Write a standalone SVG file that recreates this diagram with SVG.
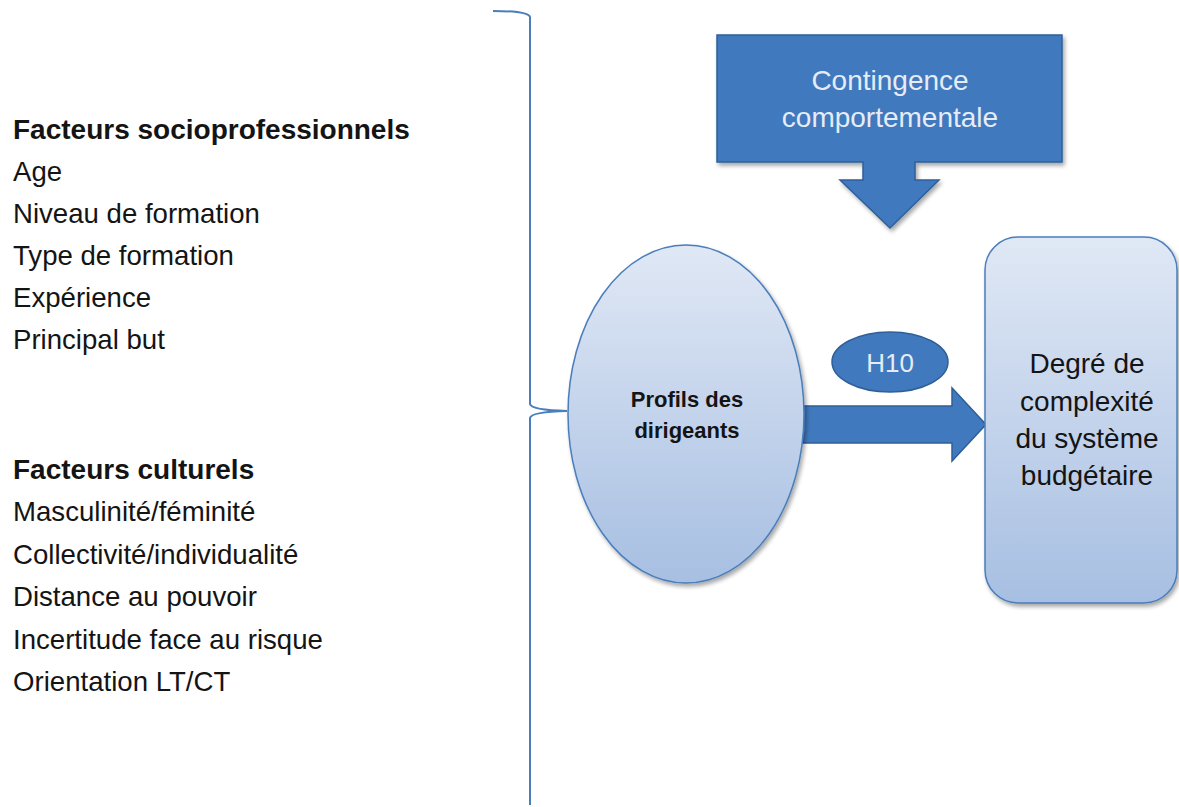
<svg xmlns="http://www.w3.org/2000/svg" width="1179" height="807" viewBox="0 0 1179 807">
<defs>
<linearGradient id="lg" x1="0" y1="0" x2="0" y2="1">
<stop offset="0" stop-color="#e0e8f5"/>
<stop offset="1" stop-color="#a7bfe2"/>
</linearGradient>
<filter id="sh" x="-10%" y="-10%" width="130%" height="130%">
<feGaussianBlur in="SourceAlpha" stdDeviation="2"/>
<feOffset dx="2" dy="3"/>
<feComponentTransfer><feFuncA type="linear" slope="0.35"/></feComponentTransfer>
<feMerge><feMergeNode/><feMergeNode in="SourceGraphic"/></feMerge>
</filter>
</defs>
<style>
.t{font-family:"Liberation Sans",Arial,sans-serif;fill:#141414}
.l{font-size:27.6px}
.h{font-size:28px;font-weight:bold}
.w{font-family:"Liberation Sans",Arial,sans-serif;fill:#e6ecf5;text-anchor:middle}
.dk{fill:#4079bd;stroke:#2f5f98;stroke-width:1.5}
.lt{fill:url(#lg);stroke:#4a7ebb;stroke-width:1.5}
.c{font-family:"Liberation Sans",Arial,sans-serif;fill:#141414;text-anchor:middle}
</style>
<rect width="1179" height="807" fill="#ffffff"/>

<g id="left-text">
<text class="t h" x="13" y="139">Facteurs socioprofessionnels</text>
<text class="t l" x="13" y="181">Age</text>
<text class="t l" x="13" y="223">Niveau de formation</text>
<text class="t l" x="13" y="265">Type de formation</text>
<text class="t l" x="13" y="307">Expérience</text>
<text class="t l" x="13" y="349">Principal but</text>
<text class="t h" x="13" y="479">Facteurs culturels</text>
<text class="t l" x="13" y="521">Masculinité/féminité</text>
<text class="t l" x="13" y="564">Collectivité/individualité</text>
<text class="t l" x="13" y="606">Distance au pouvoir</text>
<text class="t l" x="13" y="649">Incertitude face au risque</text>
<text class="t l" x="13" y="691">Orientation LT/CT</text>
</g>

<g id="connectors">
<path id="brace" d="M493,11 Q528,11 530,17 L530,404 Q531,410 567,411 Q531,412 530,418 L530,805" fill="none" stroke="#4a7ebb" stroke-width="2"/>
<path id="arrow-h10" class="dk" d="M803,406 L952,406 L952,388 L986,424.5 L952,461 L952,443 L803,443 Z"/>
</g>

<g id="contingence">
<path class="dk" filter="url(#sh)" d="M717,35 L1062,35 L1062,162 L915,162 L915,180 L939,180 L890,228 L840,180 L863,180 L863,162 L717,162 Z"/>
<text class="w" x="890" y="90" font-size="28">Contingence</text>
<text class="w" x="890" y="127" font-size="28">comportementale</text>
</g>

<g id="profils">
<ellipse class="lt" filter="url(#sh)" cx="686" cy="414" rx="118" ry="169"/>
<text class="c" x="687" y="407" font-size="22" font-weight="bold">Profils des</text>
<text class="c" x="687" y="438" font-size="22" font-weight="bold">dirigeants</text>
</g>

<g id="h10">
<ellipse class="dk" cx="890" cy="362" rx="58" ry="30"/>
<text class="w" x="890" y="372" font-size="26">H10</text>
</g>

<g id="degre">
<rect class="lt" filter="url(#sh)" x="985" y="237" width="192" height="366" rx="33"/>
<text class="c" x="1087" y="373" font-size="28">Degré de</text>
<text class="c" x="1087" y="411" font-size="28">complexité</text>
<text class="c" x="1087" y="448" font-size="28">du système</text>
<text class="c" x="1087" y="485" font-size="28">budgétaire</text>
</g>
</svg>
